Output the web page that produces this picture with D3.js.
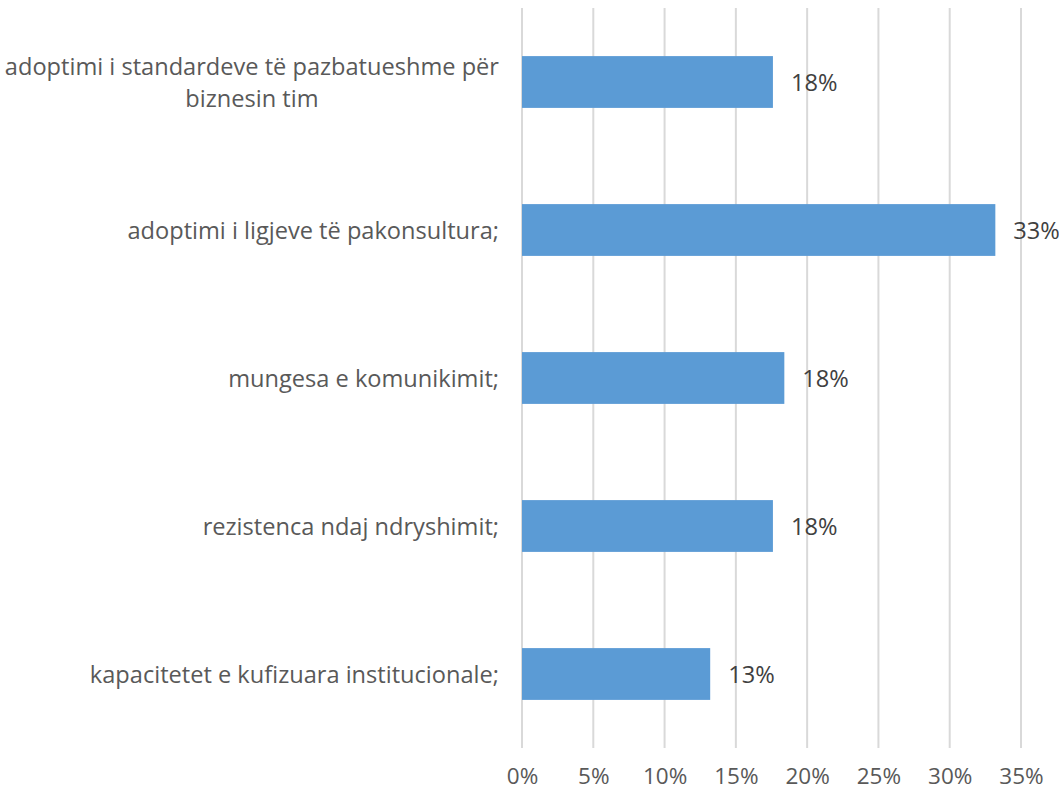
<!DOCTYPE html>
<html>
<head>
<meta charset="utf-8">
<script src="https://cdn.jsdelivr.net/npm/d3@7"></script>
<style>
  body { margin: 0; background: #fff; }
  svg { display: block; font-family: "Open Sans", sans-serif; }
</style>
</head>
<body>
<div class="container"></div>
<script>
const categories = [
  "adoptimi i standardeve të pazbatueshme për biznesin tim",
  "adoptimi i ligjeve të pakonsultura;",
  "mungesa e komunikimit;",
  "rezistenca ndaj ndryshimit;",
  "kapacitetet e kufizuara institucionale;"
];
const values = [17.6, 33.2, 18.4, 17.6, 13.2];
const valueLabels = ["18%", "33%", "18%", "18%", "13%"];
const ticks = [0, 5, 10, 15, 20, 25, 30, 35];

const w = 1059;
const h = 792;
const plotLeft = 522, plotRight = 1021, plotTop = 8, plotBottom = 748;
const fontSize = "23.6px";

const svg = d3.select(".container")
  .append("svg")
  .attr("width", w)
  .attr("height", h);

const xScale = d3.scaleLinear().domain([0, 35]).range([plotLeft, plotRight]);
const yScale = d3.scaleBand().domain(categories).range([plotTop, plotBottom]).paddingInner(0.65).paddingOuter(0.325);

// gridlines
svg.append("g")
  .selectAll("line")
  .data(ticks)
  .enter()
  .append("line")
  .attr("x1", (d) => xScale(d))
  .attr("x2", (d) => xScale(d))
  .attr("y1", plotTop)
  .attr("y2", plotBottom)
  .attr("stroke", "#d9d9d9")
  .attr("stroke-width", 2);

// x axis labels
const xAxis = d3.axisBottom(xScale)
  .tickValues(ticks)
  .tickSize(0)
  .tickPadding(0)
  .tickFormat((d) => d + "%");

svg.append("g")
  .attr("transform", "translate(0," + 784 + ")")
  .call(xAxis)
  .call((g) => g.select(".domain").remove())
  .selectAll("text")
  .attr("dy", 0)
  .attr("fill", "#595959")
  .style("font-size", "22.5px")
  .style("font-family", "Open Sans, sans-serif");

// bars
svg.selectAll("rect.bar")
  .data(values)
  .enter()
  .append("rect")
  .attr("class", "bar")
  .attr("x", xScale(0))
  .attr("y", (d, i) => yScale(categories[i]))
  .attr("width", (d) => xScale(d) - xScale(0))
  .attr("height", yScale.bandwidth())
  .attr("fill", "#5b9bd5");

// value labels
svg.selectAll("text.val")
  .data(values)
  .enter()
  .append("text")
  .attr("class", "val")
  .attr("x", (d) => xScale(d) + 18)
  .attr("y", (d, i) => yScale(categories[i]) + yScale.bandwidth() / 2 + 8.5)
  .attr("fill", "#404040")
  .style("font-size", fontSize)
  .text((d, i) => valueLabels[i]);

// category labels, wrapped when too long
const labelRight = 499;
const maxWidth = 505;
categories.forEach((c, i) => {
  const cy = yScale(c) + yScale.bandwidth() / 2;
  const g = svg.append("g");
  const words = c.split(" ");
  const lines = [];
  let line = [];
  const probe = g.append("text").style("font-size", fontSize);
  words.forEach((word) => {
    line.push(word);
    probe.text(line.join(" "));
    if (probe.node().getComputedTextLength() > maxWidth && line.length > 1) {
      line.pop();
      lines.push(line.join(" "));
      line = [word];
    }
  });
  lines.push(line.join(" "));
  probe.remove();

  const lh = 32;
  const texts = lines.map((l, j) => g.append("text")
    .attr("fill", "#595959")
    .style("font-size", fontSize)
    .attr("y", cy + 8.5 + (j - (lines.length - 1) / 2) * lh)
    .text(l));
  const widest = d3.max(texts, (t) => t.node().getComputedTextLength());
  texts.forEach((t) => {
    t.attr("x", labelRight - widest / 2).attr("text-anchor", "middle");
  });
});
</script>
</body>
</html>
